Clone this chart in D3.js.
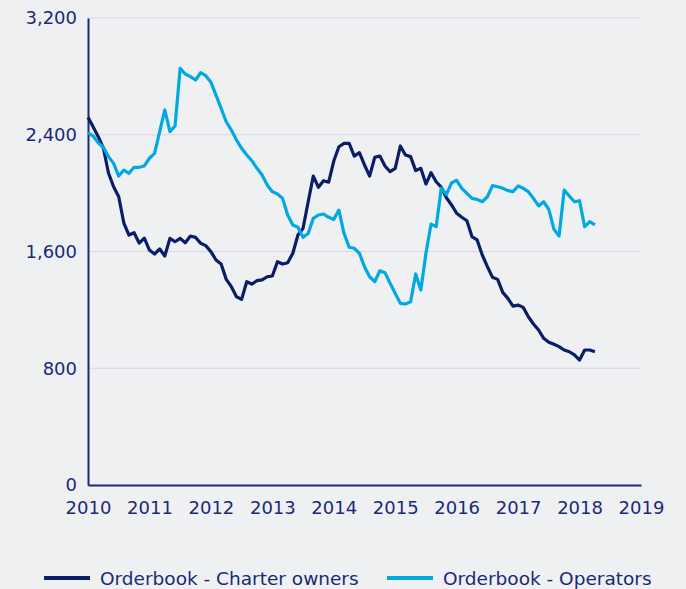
<!DOCTYPE html>
<html>
<head>
<meta charset="utf-8">
<script src="https://cdn.jsdelivr.net/npm/d3@7"></script>
<style>
  html, body { margin: 0; padding: 0; background: #eff0f2; }
  svg { display: block; }
  text { font-family: "DejaVu Sans", Verdana, sans-serif; fill: #1a2a78; }
</style>
</head>
<body>
<div id="chart"></div>
<script>
// monthly values, Jan 2010 .. Apr 2018
const startYear = 2010;
const charterOwners = [
    2519, 2455, 2387, 2309, 2138, 2044, 1975, 1795, 1713, 1729, 1658, 1692,
    1610, 1583, 1617, 1569, 1690, 1667, 1690, 1660, 1706, 1697, 1656, 1640,
    1599, 1542, 1514, 1409, 1359, 1290, 1272, 1393, 1377, 1400, 1405, 1427,
    1432, 1530, 1514, 1523, 1588, 1713, 1759, 1941, 2117, 2040, 2085, 2075,
    2220, 2318, 2341, 2341, 2254, 2277, 2193, 2117, 2245, 2254, 2186, 2147,
    2170, 2323, 2261, 2250, 2154, 2170, 2062, 2140, 2078, 2040, 1968, 1919,
    1862, 1835, 1811, 1701, 1679, 1576, 1496, 1423, 1409, 1320, 1279, 1226,
    1233, 1217, 1153, 1103, 1062, 1005, 978, 964, 948, 925, 913, 891,
    856, 925, 925, 913
];
const operators = [
    2414, 2391, 2345, 2314, 2250, 2204, 2117, 2158, 2136, 2177, 2177, 2186,
    2239, 2273, 2421, 2570, 2421, 2460, 2855, 2816, 2798, 2775, 2825, 2805,
    2760, 2672, 2581, 2489, 2432, 2364, 2307, 2261, 2222, 2170, 2124, 2056,
    2010, 1994, 1964, 1850, 1782, 1766, 1697, 1724, 1827, 1850, 1857, 1834,
    1820, 1884, 1724, 1629, 1622, 1588, 1496, 1427, 1393, 1468, 1455, 1382,
    1313, 1245, 1240, 1256, 1446, 1336, 1588, 1788, 1770, 2035, 1990, 2070,
    2088, 2033, 1998, 1964, 1957, 1941, 1975, 2051, 2044, 2033, 2017, 2010,
    2049, 2033, 2010, 1964, 1912, 1941, 1889, 1752, 1706, 2021, 1980, 1941,
    1948, 1770, 1804, 1782
];
const xTicks = [2010, 2011, 2012, 2013, 2014, 2015, 2016, 2017, 2018, 2019];
const yTicks = [0, 800, 1600, 2400, 3200];
const seriesNames = ["Orderbook - Charter owners", "Orderbook - Operators"];
const seriesColors = ["#0b1d66", "#00a9e2"];

const width = 686, height = 589;
const margin = { top: 18, right: 45, bottom: 104, left: 88 };

const svg = d3.select("#chart").append("svg")
    .attr("width", width)
    .attr("height", height);

const x = d3.scaleLinear()
    .domain([2010, 2019])
    .range([margin.left, width - margin.right]);
const y = d3.scaleLinear()
    .domain([0, 3200])
    .range([height - margin.bottom, margin.top]);

// grid lines
svg.append("g")
    .selectAll("line")
    .data(yTicks.filter(d => d > 0))
    .enter()
    .append("line")
    .attr("x1", x(2010))
    .attr("x2", x(2019))
    .attr("y1", d => y(d))
    .attr("y2", d => y(d))
    .attr("stroke", "#d6d8dc")
    .attr("stroke-width", 1);

const yAxis = d3.axisLeft(y)
    .tickValues(yTicks)
    .tickFormat(d3.format(","))
    .tickSize(0)
    .tickPadding(11);
svg.append("g")
    .attr("transform", "translate(" + x(2010) + ",0)")
    .call(yAxis)
    .call(g => g.select(".domain").attr("stroke", "#1a2a78").attr("stroke-width", 2))
    .call(g => g.selectAll("text").style("font-size", "18px").attr("fill", "#1a2a78"));

const xAxis = d3.axisBottom(x)
    .tickValues(xTicks)
    .tickFormat(d3.format("d"))
    .tickSize(0)
    .tickPadding(16);
svg.append("g")
    .attr("transform", "translate(0," + y(0) + ")")
    .call(xAxis)
    .call(g => g.select(".domain").attr("stroke", "#1a2a78").attr("stroke-width", 2))
    .call(g => g.selectAll("text").style("font-size", "18px").attr("fill", "#1a2a78"));

const line = d3.line()
    .x((d, i) => x(startYear + i / 12))
    .y(d => y(d));

[charterOwners, operators].forEach((series, k) => {
    svg.append("path")
        .datum(series)
        .attr("fill", "none")
        .attr("stroke", seriesColors[k])
        .attr("stroke-width", 3.2)
        .attr("stroke-linejoin", "round")
        .attr("d", line);
});

// legend
const legendX = [44, 387];
const legend = svg.append("g")
    .attr("transform", "translate(0,578)");
seriesNames.forEach((name, k) => {
    legend.append("line")
        .attr("x1", legendX[k])
        .attr("x2", legendX[k] + 46)
        .attr("y1", 0)
        .attr("y2", 0)
        .attr("stroke", seriesColors[k])
        .attr("stroke-width", 4);
    legend.append("text")
        .attr("x", legendX[k] + 56)
        .attr("y", 7)
        .style("font-size", "18.5px")
        .text(name);
});
</script>
</body>
</html>
